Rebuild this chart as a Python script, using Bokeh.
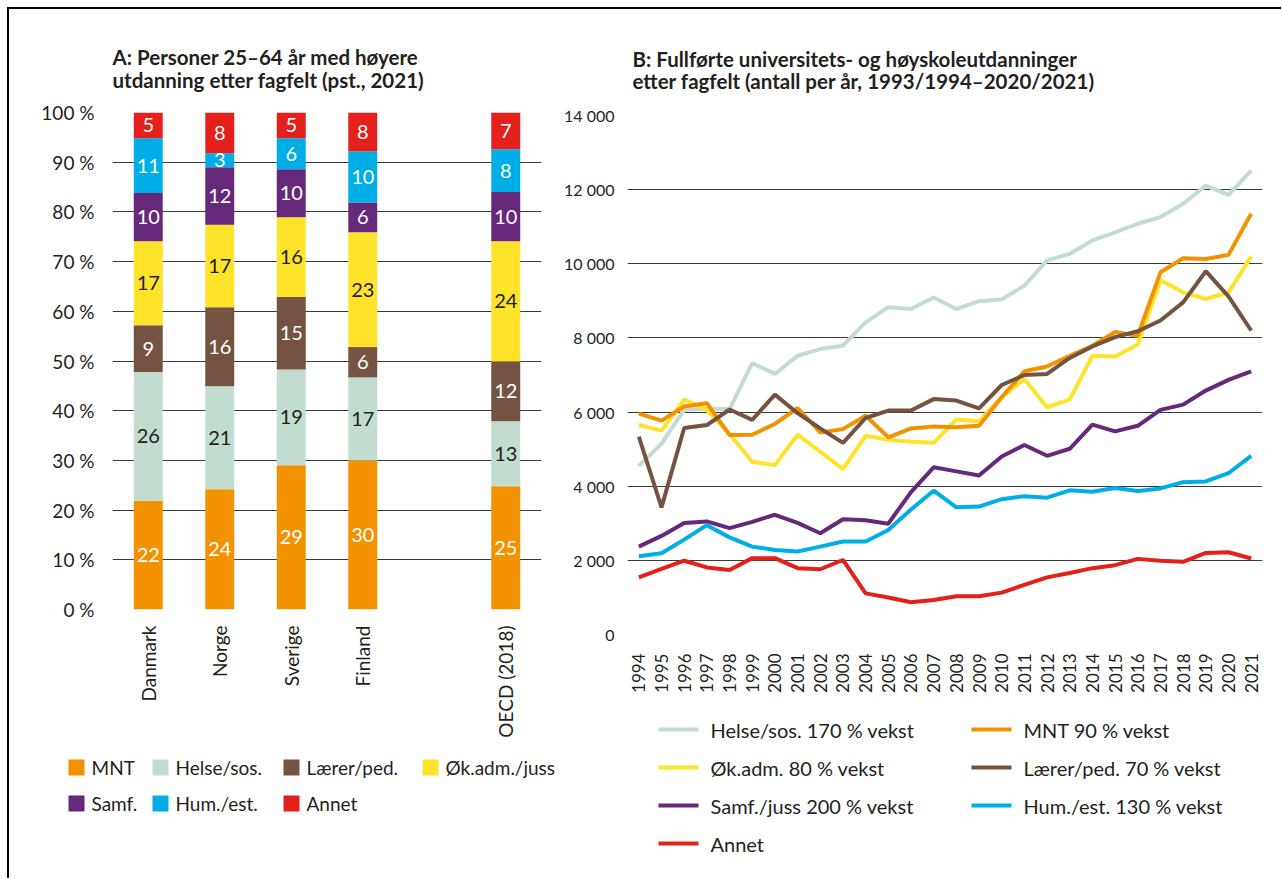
import math
from bokeh.plotting import figure
from bokeh.models import ColumnDataSource, FactorRange, FixedTicker, Range1d
from bokeh.layouts import row, column
from bokeh.embed import file_html
from bokeh.resources import INLINE
from bokeh.core.properties import value

FONT = "Lato"
TXT = "#231F20"

# ---------------- Panel A data ----------------
countries = ["Danmark", "Norge", "Sverige", "Finland", " ", "OECD (2018)"]
bar_countries = ["Danmark", "Norge", "Sverige", "Finland", "OECD (2018)"]
fields = ["MNT", "Helse/sos.", "Lærer/ped.", "Øk.adm./juss", "Samf.", "Hum./est.", "Annet"]
bar_colors = ["#F39200", "#C2DDCF", "#745343", "#FFE32B", "#66287A", "#00AEE7", "#E3201B"]
label_colors = ["white", TXT, "white", TXT, "white", "white", "white"]

mnt = [21.9, 24.2, 29.0, 30.0, 24.8]
helse = [25.9, 20.7, 19.3, 16.7, 13.1]
laerer = [9.4, 15.9, 14.6, 6.1, 12.0]
okadm = [16.9, 16.6, 16.0, 23.1, 24.2]
samf = [9.7, 11.6, 9.7, 6.0, 9.9]
hum = [11.0, 2.8, 6.2, 10.3, 8.6]
annet = [5.2, 8.2, 5.2, 7.8, 7.4]

lab_mnt = ["22", "24", "29", "30", "25"]
lab_helse = ["26", "21", "19", "17", "13"]
lab_laerer = ["9", "16", "15", "6", "12"]
lab_okadm = ["17", "17", "16", "23", "24"]
lab_samf = ["10", "12", "10", "6", "10"]
lab_hum = ["11", "3", "6", "10", "8"]
lab_annet = ["5", "8", "5", "8", "7"]

pct_ticks = list(range(0, 101, 10))

# ---------------- Panel B data ----------------
years = list(range(1994, 2022))
helse_line = [4550, 5150, 6060, 6080, 6080, 7320, 7030, 7520, 7700, 7790, 8420, 8830,
              8780, 9090, 8780, 8990, 9040, 9410, 10090, 10270, 10630, 10850, 11080,
              11260, 11620, 12110, 11860, 12510]
mnt_line = [5960, 5770, 6150, 6240, 5380, 5390, 5680, 6110, 5450, 5540, 5900, 5320,
            5560, 5610, 5590, 5630, 6400, 7100, 7230, 7520, 7790, 8160, 8060, 9770,
            10150, 10130, 10240, 11350]
okadm_line = [5650, 5500, 6340, 6060, 5410, 4660, 4570, 5390, 4930, 4460, 5360, 5250,
              5200, 5170, 5800, 5750, 6400, 6890, 6130, 6340, 7520, 7500, 7820, 9560,
              9230, 9050, 9230, 10200]
laerer_line = [5340, 3430, 5570, 5650, 6070, 5790, 6470, 5970, 5560, 5170, 5840, 6040,
               6040, 6350, 6310, 6100, 6730, 7000, 7030, 7460, 7770, 8020, 8180, 8470,
               8960, 9800, 9120, 8200]
samf_line = [2370, 2660, 3010, 3050, 2870, 3040, 3230, 3010, 2730, 3110, 3080, 2990,
             3840, 4510, 4400, 4290, 4800, 5110, 4820, 5010, 5660, 5480, 5630, 6060,
             6200, 6580, 6870, 7100]
hum_line = [2110, 2190, 2560, 2950, 2620, 2370, 2280, 2240, 2370, 2510, 2510, 2820,
            3370, 3880, 3430, 3450, 3650, 3730, 3690, 3890, 3850, 3950, 3870, 3940,
            4110, 4130, 4350, 4820]
annet_line = [1540, 1770, 1990, 1810, 1740, 2060, 2060, 1790, 1760, 2010, 1110, 1000,
              870, 930, 1030, 1030, 1130, 1340, 1540, 1660, 1790, 1870, 2040, 1990,
              1960, 2200, 2220, 2050]

series_names = ["Helse/sos. 170 % vekst", "MNT 90 % vekst", "Øk.adm. 80 % vekst",
                "Lærer/ped. 70 % vekst", "Samf./juss 200 % vekst", "Hum./est. 130 % vekst",
                "Annet"]
series_values = [helse_line, mnt_line, okadm_line, laerer_line, samf_line, hum_line, annet_line]
series_colors = ["#C2DDCF", "#F39200", "#FFE32B", "#745343", "#66287A", "#00AEE7", "#E3201B"]
draw_order = [0, 2, 1, 3, 4, 5, 6]

count_ticks = list(range(0, 14001, 2000))

# ---------------- layout constants (pixels) ----------------
W_A, W_B = 552, 720
H_A, H_B = 740, 700
LEG_H_A, LEG_H_B = 129, 169
# legend A: 4 column starts, 2 row centres (px inside the legend canvas)
LEGA_COLS = [59, 143, 274, 413]
LEGA_ROWS = [18, 54]
LEGA_SWATCH = 16
LEGA_GAP = 7
# legend B: 2 column starts, 4 row centres
LEGB_COLS = [97, 410]
LEGB_ROWS = [20, 58, 96, 134]
LEGB_LINE = 40
LEGB_GAP = 12


def style_axes(p):
    for ax in (p.xaxis[0], p.yaxis[0]):
        ax.axis_line_color = None
        ax.major_tick_line_color = None
        ax.minor_tick_line_color = None
        ax.major_label_text_font = FONT
        ax.major_label_text_color = TXT


def style_title(p, text, offset, standoff):
    p.title.text = text
    p.title.text_font = FONT
    p.title.text_font_size = "20.5px"
    p.title.text_font_style = "bold"
    p.title.text_color = TXT
    p.title.offset = offset
    p.title.standoff = standoff
    p.title.text_line_height = 0.94


def legend_canvas(width, height):
    # a blank canvas whose data units are pixels (y downward)
    f = figure(width=width, height=height, output_backend="svg", toolbar_location=None,
               x_axis_type=None, y_axis_type=None, x_range=Range1d(0, width),
               y_range=Range1d(height, 0), min_border=0, frame_align=False)
    f.outline_line_color = None
    f.grid.visible = False
    return f


# ================= Panel A =================
p1 = figure(x_range=FactorRange(factors=countries), y_range=Range1d(0, 100),
            width=W_A, height=H_A, output_backend="svg", toolbar_location=None,
            min_border_left=103, min_border_right=20, min_border_top=103,
            min_border_bottom=140, frame_align=False)
p1.outline_line_color = None
p1.xgrid.grid_line_color = None
p1.ygrid.grid_line_color = "#3a3a3a"
p1.ygrid.grid_line_width = 1.2
p1.ygrid.ticker = FixedTicker(ticks=pct_ticks)

data = {"country": bar_countries}
all_vals = [mnt, helse, laerer, okadm, samf, hum, annet]
all_labs = [lab_mnt, lab_helse, lab_laerer, lab_okadm, lab_samf, lab_hum, lab_annet]
for f, v in zip(fields, all_vals):
    data[f] = v
src = ColumnDataSource(data)
p1.vbar_stack(fields, x="country", width=0.405, color=bar_colors, line_color=None,
              source=src)

tx, ty, tt, tc = [], [], [], []
for j, c in enumerate(bar_countries):
    base = 0.0
    for i in range(len(fields)):
        h = all_vals[i][j]
        tx.append(c)
        ty.append(base + h / 2)
        tt.append(all_labs[i][j])
        tc.append(label_colors[i])
        base += h
p1.text(x="x", y="y", text="t", text_color="c",
        source=ColumnDataSource(dict(x=tx, y=ty, t=tt, c=tc)),
        text_align="center", text_baseline="middle", text_font=value(FONT),
        text_font_size="20px")

p1.yaxis.ticker = FixedTicker(ticks=pct_ticks)
p1.yaxis.major_label_overrides = {t: f"{t} %" for t in pct_ticks}
style_axes(p1)
p1.yaxis.major_label_text_font_size = "19px"
p1.yaxis.major_label_standoff = 12
p1.xaxis.major_label_text_font_size = "19px"
p1.xaxis.major_label_orientation = math.pi / 2
p1.xaxis.major_label_standoff = 10
style_title(p1, "A: Personer 25–64 år med høyere\nutdanning etter fagfelt (pst., 2021)", 0, 41)

# legend A, laid out in a grid: row 1 = first four fields, row 2 = the rest
l1 = legend_canvas(W_A, LEG_H_A)
sq_x, sq_y, sq_c, lt_x, lt_y, lt_t = [], [], [], [], [], []
for k, name in enumerate(fields):
    r, cidx = divmod(k, 4)
    x0 = LEGA_COLS[cidx]
    sq_x.append(x0 + LEGA_SWATCH / 2)
    sq_y.append(LEGA_ROWS[r])
    sq_c.append(bar_colors[k])
    lt_x.append(x0 + LEGA_SWATCH + LEGA_GAP)
    lt_y.append(LEGA_ROWS[r])
    lt_t.append(name)
l1.rect(x=sq_x, y=sq_y, width=LEGA_SWATCH, height=LEGA_SWATCH, color=sq_c, line_color=None)
l1.text(x=lt_x, y=lt_y, text=lt_t, text_baseline="middle", text_align="left",
        text_font=value(FONT), text_font_size="19px", text_color=TXT)

# ================= Panel B =================
p2 = figure(x_range=Range1d(1993.5, 2021.5), y_range=Range1d(0, 14000),
            width=W_B, height=H_B, output_backend="svg", toolbar_location=None,
            min_border_left=58, min_border_right=19, min_border_top=106,
            min_border_bottom=75, frame_align=False)
p2.outline_line_color = None
p2.xgrid.grid_line_color = None
p2.ygrid.grid_line_color = "#3a3a3a"
p2.ygrid.grid_line_width = 1.2
p2.ygrid.ticker = FixedTicker(ticks=count_ticks)

for i in draw_order:
    p2.line(years, series_values[i], line_width=4, color=series_colors[i])

p2.yaxis.ticker = FixedTicker(ticks=count_ticks)
p2.yaxis.major_label_overrides = {t: (f"{t:,}".replace(",", " ")) for t in count_ticks}
p2.xaxis.ticker = FixedTicker(ticks=years)
style_axes(p2)
p2.yaxis.major_label_text_font_size = "16px"
p2.yaxis.major_label_standoff = 7
p2.xaxis.major_label_text_font_size = "17px"
p2.xaxis.major_label_orientation = math.pi / 2
p2.xaxis.major_label_standoff = 13
style_title(p2, "B: Fullførte universitets- og høyskoleutdanninger\n"
                "etter fagfelt (antall per år, 1993/1994–2020/2021)", 5, 44)

# legend B, two columns read row by row
l2 = legend_canvas(W_B, LEG_H_B)
sx0, sx1, sy, sc, tx2, ty2, tt2 = [], [], [], [], [], [], []
for k, name in enumerate(series_names):
    r, cidx = divmod(k, 2)
    x0 = LEGB_COLS[cidx]
    sx0.append(x0)
    sx1.append(x0 + LEGB_LINE)
    sy.append(LEGB_ROWS[r])
    sc.append(series_colors[k])
    tx2.append(x0 + LEGB_LINE + LEGB_GAP)
    ty2.append(LEGB_ROWS[r])
    tt2.append(name)
l2.segment(x0=sx0, y0=sy, x1=sx1, y1=sy, color=sc, line_width=4)
l2.text(x=tx2, y=ty2, text=tt2, text_baseline="middle", text_align="left",
        text_font=value(FONT), text_font_size="20px", text_color=TXT)

lay = row(column(p1, l1), column(p2, l2))
lay.styles = {"margin-left": "7px", "margin-top": "7px",
              "border-top": "2px solid #000", "border-left": "2px solid #000"}

open("out.html", "w").write(file_html(lay, INLINE))
